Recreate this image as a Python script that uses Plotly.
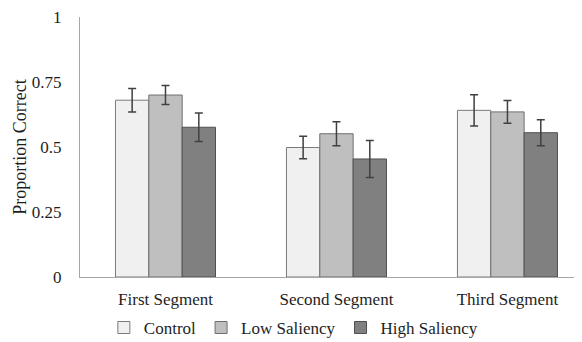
import plotly.graph_objects as go

categories = ["First Segment", "Second Segment", "Third Segment"]
series_names = ["Control", "Low Saliency", "High Saliency"]
control = [0.68, 0.498, 0.641]
control_err = [0.045, 0.043, 0.06]
low = [0.70, 0.551, 0.635]
low_err = [0.037, 0.046, 0.044]
high = [0.576, 0.454, 0.555]
high_err = [0.055, 0.071, 0.05]
y_ticks = [0, 0.25, 0.5, 0.75, 1]
y_tick_labels = ["0", "0.25", "0.5", "0.75", "1"]

fills = ["#f0f0f0", "#bfbfbf", "#808080"]
edges = ["#7a7a7a", "#6e6e6e", "#505050"]

fig = go.Figure()
for name, vals, errs, fc, ec in zip(series_names, [control, low, high],
                                     [control_err, low_err, high_err], fills, edges):
    fig.add_trace(go.Bar(
        x=categories, y=vals, name=name,
        marker=dict(color=fc, line=dict(color=ec, width=1)),
        error_y=dict(type="data", array=errs, visible=True,
                     color="#404040", thickness=1.5, width=4),
    ))

font_family = "Liberation Serif"
fig.update_layout(
    width=574, height=334,
    margin=dict(l=72, r=0, t=9, b=65, autoexpand=False),
    paper_bgcolor="white", plot_bgcolor="white",
    barmode="group", bargap=0.415, bargroupgap=0,
    font=dict(family=font_family, size=17, color="#1e1e1e"),
    showlegend=True,
    legend=dict(orientation="h", x=0.425, xanchor="center", y=-0.196, yanchor="middle",
                font=dict(size=17, family=font_family), itemwidth=30,
                bgcolor="rgba(0,0,0,0)"),
    xaxis=dict(range=[-0.5, 2.436], showline=True, linecolor="#a6a6a6", linewidth=1,
               ticks="", showgrid=False, tickfont=dict(size=17, family=font_family),
               ticklabelstandoff=7, automargin=False),
    yaxis=dict(range=[0, 1], tickvals=y_ticks, ticktext=y_tick_labels,
               showline=True, linecolor="#a6a6a6", linewidth=1, ticks="",
               showgrid=False, zeroline=False, tickfont=dict(size=17, family=font_family),
               ticklabelstandoff=14, automargin=False, ticklabeloverflow="allow",
               title=dict(text="Proportion Correct", font=dict(size=18, family=font_family),
                          standoff=0)),
)

fig.write_html("out.html")
